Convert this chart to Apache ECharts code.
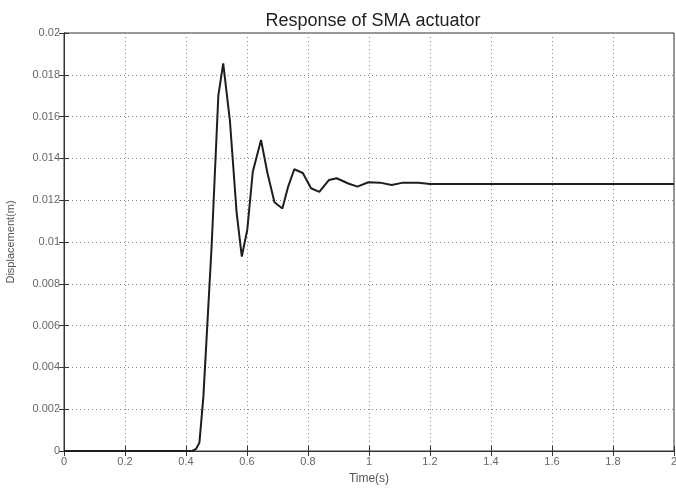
<!DOCTYPE html>
<html><head><meta charset="utf-8">
<script src="https://cdn.jsdelivr.net/npm/echarts@6/dist/echarts.min.js"></script>
<style>html,body{margin:0;padding:0;background:#fff}#c{width:676px;height:488px}</style>
</head><body><div id="c"></div>
<script>
const title = "Response of SMA actuator";
const xName = "Time(s)";
const yName = "Displacement(m)";
const time = [0, 0.42, 0.433, 0.444, 0.457, 0.484, 0.506, 0.522, 0.544, 0.566, 0.583, 0.601, 0.619, 0.646, 0.667, 0.69, 0.716, 0.735, 0.755, 0.783, 0.81, 0.837, 0.869, 0.894, 0.932, 0.962, 0.998, 1.036, 1.074, 1.112, 1.162, 1.2, 1.4, 1.6, 1.8, 2.0];
const displacement = [0, 0, 0.0001, 0.0004, 0.0026, 0.0098, 0.0170, 0.01855, 0.0158, 0.0114, 0.0093, 0.0106, 0.01336, 0.01488, 0.0133, 0.0119, 0.0116, 0.01265, 0.01348, 0.0133, 0.01257, 0.0124, 0.01297, 0.01305, 0.0128, 0.01265, 0.01286, 0.01284, 0.01273, 0.01284, 0.01284, 0.01278, 0.01278, 0.01278, 0.01278, 0.01278];

const chart = echarts.init(document.getElementById('c'), null, {renderer: 'canvas'});
const font = "'Liberation Sans', Arial, sans-serif";
const gridLine = {show: true, lineStyle: {type: [1, 3], color: '#888', width: 1}};
const tickIn = {show: true, inside: true, length: 5, lineStyle: {color: '#333'}};
chart.setOption({
  backgroundColor: '#fff',
  animation: false,
  title: {text: title, left: 368, top: 7, textAlign: 'center',
    textStyle: {fontFamily: font, fontSize: 18, fontWeight: 'normal', color: '#222'}},
  grid: {left: 64, right: 2, top: 33, bottom: 37, show: true, borderColor: '#333', borderWidth: 1,
    containLabel: false, outerBoundsMode: 'none'},
  xAxis: [{
    type: 'value', min: 0, max: 2, interval: 0.2,
    name: xName, nameLocation: 'middle', nameGap: 22,
    nameTextStyle: {fontFamily: font, fontSize: 12, color: '#555'},
    axisLine: {show: true, lineStyle: {color: '#333'}},
    axisTick: tickIn,
    axisLabel: {fontFamily: font, fontSize: 11, color: '#666', margin: 5},
    splitLine: gridLine
  }, {
    type: 'value', min: 0, max: 2, interval: 0.2, position: 'top',
    axisLine: {show: true, lineStyle: {color: '#333'}},
    axisTick: tickIn, axisLabel: {show: false}, splitLine: {show: false}
  }],
  yAxis: [{
    type: 'value', min: 0, max: 0.02, interval: 0.002,
    name: yName, nameLocation: 'middle', nameGap: 48, nameRotate: 90,
    nameTextStyle: {fontFamily: font, fontSize: 11, color: '#555'},
    axisLine: {show: true, lineStyle: {color: '#333'}},
    axisTick: tickIn,
    axisLabel: {fontFamily: font, fontSize: 11, color: '#666', margin: 4},
    splitLine: gridLine
  }, {
    type: 'value', min: 0, max: 0.02, interval: 0.002, position: 'right',
    axisLine: {show: true, lineStyle: {color: '#333'}},
    axisTick: tickIn, axisLabel: {show: false}, splitLine: {show: false}
  }],
  series: [{
    type: 'line', xAxisIndex: 0, yAxisIndex: 0,
    data: time.map((t, i) => [t, displacement[i]]),
    showSymbol: false, symbol: 'none',
    lineStyle: {color: '#1e1e1e', width: 2}
  }]
});
</script></body></html>
